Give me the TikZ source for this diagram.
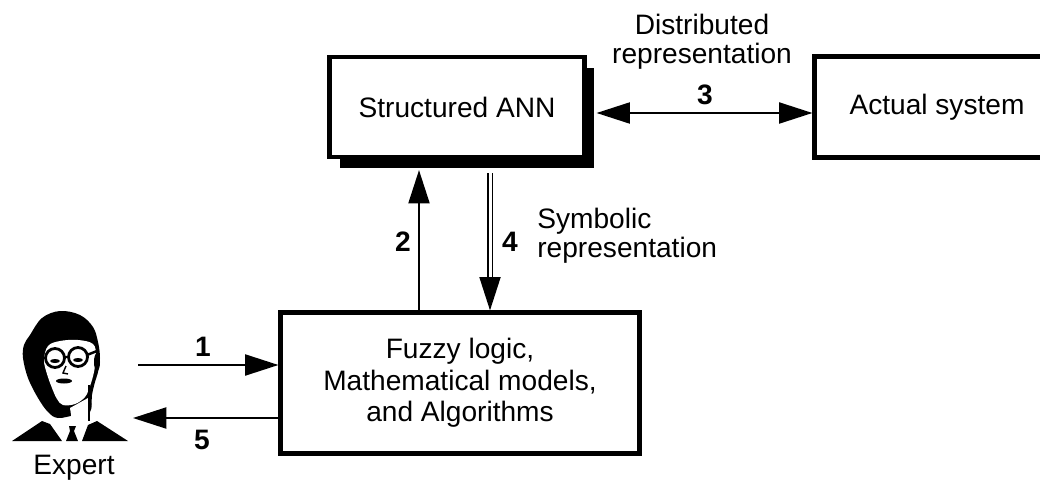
\documentclass[tikz,border=0pt]{standalone}
\usepackage{fontspec}
\setmainfont{Liberation Sans}
\usetikzlibrary{arrows.meta,shadows,calc}

\begin{document}
\begin{tikzpicture}[x=0.02cm,y=-0.02cm,
  font=\fontsize{16}{18}\selectfont,
  >={Triangle[length=19pt,width=12pt]},
  box/.style={draw,line width=2.4pt,fill=white,align=center},
  num/.style={font=\fontsize{16}{18}\selectfont\bfseries,inner sep=0pt},
  lbl/.style={align=center,inner sep=0pt,font=\fontsize{16}{16.3}\selectfont},
  link/.style={line width=1.1pt}]
  \path[use as bounding box,clip] (0,0) rectangle (1040,483);

  % blocks
  \node[box,minimum width=5.1cm,minimum height=2cm,
    drop shadow={shadow xshift=0.2cm,shadow yshift=-0.22cm,fill=black,opacity=1}]
    (ann) at (457,107) {Structured ANN};
  \node[box,minimum width=4.9cm,minimum height=2.02cm] (act) at (937,107) {Actual system};
  \node[box,minimum width=7.18cm,minimum height=2.82cm] (fuz) at (460,383)
    {Fuzzy logic,\\Mathematical models,\\and Algorithms};

  \coordinate (a2) at (419,0);
  \coordinate (a4) at (490,0);
  \coordinate (e1) at (138,365);
  \coordinate (e5) at (133,418);

  % connectors
  \draw[link,<->] ([xshift=0.2cm,yshift=-0.12cm]ann.east) -- ([yshift=-0.12cm]act.west);
  \draw[link,->] (fuz.north -| a2) -- ($(ann.south -| a2)+(0,11)$);
  \draw[link,->,double,double distance=1.7pt,line width=0.9pt]
    ($(ann.south -| a4)+(0,14)$) -- (fuz.north -| a4);
  \draw[link,->] (e1) -- (fuz.west |- e1);
  \draw[link,->] (fuz.west |- e5) -- (e5);

  % labels
  \node[lbl] (dist) at (702,42) {Distributed\\representation};
  \node[num] (n3) at (705,95) {3};
  \node[lbl,anchor=west,align=left] (symb) at (537,236) {Symbolic\\representation};
  \node[num] (n2) at (403,242) {2};
  \node[num] (n4) at (510,242) {4};
  \node[num] (n1) at (203,347) {1};
  \node[num] (n5) at (202,440) {5};
  \node[inner sep=0pt] (expert) at (74,468) {Expert};

  % the expert: hair and shadow, face, neck, glasses, suit
  \fill plot[smooth cycle,tension=0.6] coordinates {(30,335) (42,318) (60,311) (80,315)
    (93,327) (98,342) (100,358) (98,372) (95,382) (92,395) (90,412) (75,415)
    (58,418) (48,412) (38,398) (28,378) (23,358) (24,345)};
  \fill[white] plot[smooth cycle,tension=0.6] coordinates {(48,346) (60,341) (78,340)
    (93,344) (96,356) (94,372) (90,386) (85,397) (75,404) (63,405) (57,399)
    (52,388) (47,374) (44,360)};
  \fill[white] (70,408) -- (88,398) -- (89,421) -- (72,421) -- cycle;
  \fill (97,362) ellipse (3 and 9);
  \draw[line width=1.6pt] (55,358) circle (9.5) (78,357) circle (9.5);
  \draw[line width=1.4pt] (64,357) -- (69,357) (87,355) -- (97,351);
  \fill (55,361) ellipse (5 and 2) (78,360) ellipse (5 and 2);
  \fill (64,381) ellipse (8 and 2.5);
  \draw[line width=0.8pt] (66,366) -- (63,373) -- (68,374);
  \draw[line width=0.8pt] (89,385) -- (89,421);
  \fill (12,441) -- (42,421) -- (50,424) -- (62,441) -- cycle;
  \fill (82,441) -- (88,425) -- (97,421) -- (128,441) -- cycle;
  \fill (69,426) -- (76,426) -- (74,431) -- (78,441) -- (66,441) -- (70,431) -- cycle;
\end{tikzpicture}
\end{document}
